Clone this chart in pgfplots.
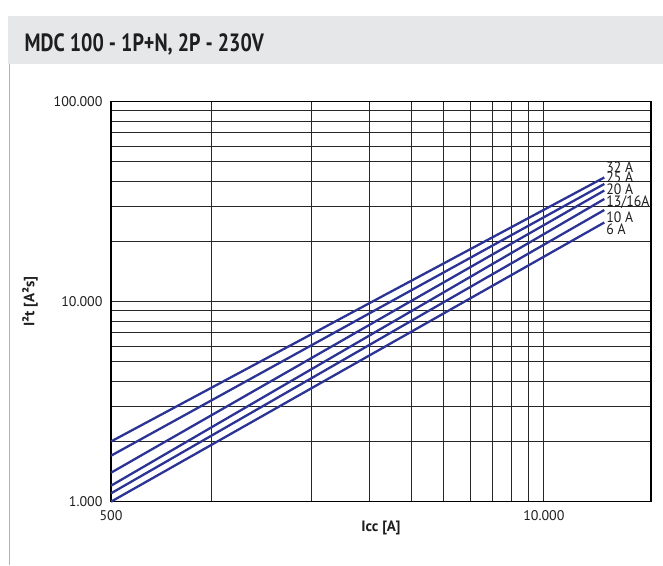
\documentclass[border=0pt]{standalone}
\usepackage{pgfplots}
\pgfplotsset{compat=1.18}
\usepackage{fontspec}
\setmainfont{PT Sans}
\newfontfamily\titlefont[FakeStretch=0.8]{PT Sans}
\newfontfamily\narrowfont[FakeStretch=0.92]{PT Sans}
\definecolor{curve}{RGB}{43,52,148}
\definecolor{band}{RGB}{230,231,232}
\definecolor{txt}{RGB}{30,30,30}
\begin{document}
\begin{tikzpicture}[x=1pt,y=1pt]
\path[use as bounding box] (0,0) rectangle (663,565);
\fill[band] (7.5,501) rectangle (663,549);
\draw[gray!60, line width=1.2pt] (9.3,501) -- (9.3,0);
\node[anchor=base west, inner sep=0, text=txt] at (24.5,513.4) {\titlefont\fontsize{25}{28}\selectfont\bfseries MDC 100 - 1P+N, 2P - 230V};
\node[rotate=90, inner sep=0, text=txt] at (30,263.3) {\fontsize{15}{17}\selectfont\bfseries I²t [A²s]};
\begin{axis}[
  at={(111pt,63.3pt)}, anchor=south west,
  scale only axis, width=540pt, height=400pt,
  xmode=log, ymode=log,
  xmin=500, xmax=21000, ymin=1000, ymax=100000,
  xtick={500,10000}, xticklabels={500,10.000},
  ytick={1000,10000,100000}, yticklabels={1.000,10.000,100.000},
  minor xtick={1000,2000,3000,4000,5000,6000,7000,8000,9000},
  minor ytick={2000,3000,4000,5000,6000,7000,8000,9000,20000,30000,40000,50000,60000,70000,80000,90000},
  xmajorgrids, xminorgrids, ymajorgrids, yminorgrids,
  major grid style={black!85, line width=0.9pt},
  minor grid style={black!85, line width=0.9pt},
  major tick length=0pt, minor tick length=0pt,
  axis line style={black, line width=1.1pt},
  tick label style={font=\fontsize{14}{16}\selectfont, text=txt},
  xticklabel style={anchor=north, yshift=-5pt},
  yticklabel style={anchor=east, xshift=-5pt},
  xlabel={\fontsize{15}{17}\selectfont\bfseries Icc [A]},
  xlabel style={at={(axis description cs:0.5,0)}, anchor=center, yshift=-26pt, text=txt},
  clip=false,
]
\addplot[curve, line width=2.3pt] coordinates {(500,2000) (15200,41800)};
\addplot[curve, line width=2.3pt] coordinates {(500,1698) (15200,38790)};
\addplot[curve, line width=2.3pt] coordinates {(500,1396) (15200,35970)};
\addplot[curve, line width=2.3pt] coordinates {(500,1202) (15200,32620)};
\addplot[curve, line width=2.3pt] coordinates {(500,1101) (15200,28740)};
\addplot[curve, line width=2.3pt] coordinates {(500,1000) (15200,24890)};
\node[anchor=west, inner sep=0, text=txt] at (axis cs:15400,47160) {\narrowfont\fontsize{15}{15}\selectfont 32 A};
\node[anchor=west, inner sep=0, text=txt] at (axis cs:15400,41690) {\narrowfont\fontsize{15}{15}\selectfont 25 A};
\node[anchor=west, inner sep=0, text=txt] at (axis cs:15400,36480) {\narrowfont\fontsize{15}{15}\selectfont 20 A};
\node[anchor=west, inner sep=0, text=txt] at (axis cs:15400,31260) {\narrowfont\fontsize{15}{15}\selectfont 13/16A};
\node[anchor=west, inner sep=0, text=txt] at (axis cs:15400,26420) {\narrowfont\fontsize{15}{15}\selectfont 10 A};
\node[anchor=west, inner sep=0, text=txt] at (axis cs:15400,23010) {\narrowfont\fontsize{15}{15}\selectfont 6 A};
\end{axis}
\end{tikzpicture}
\end{document}
